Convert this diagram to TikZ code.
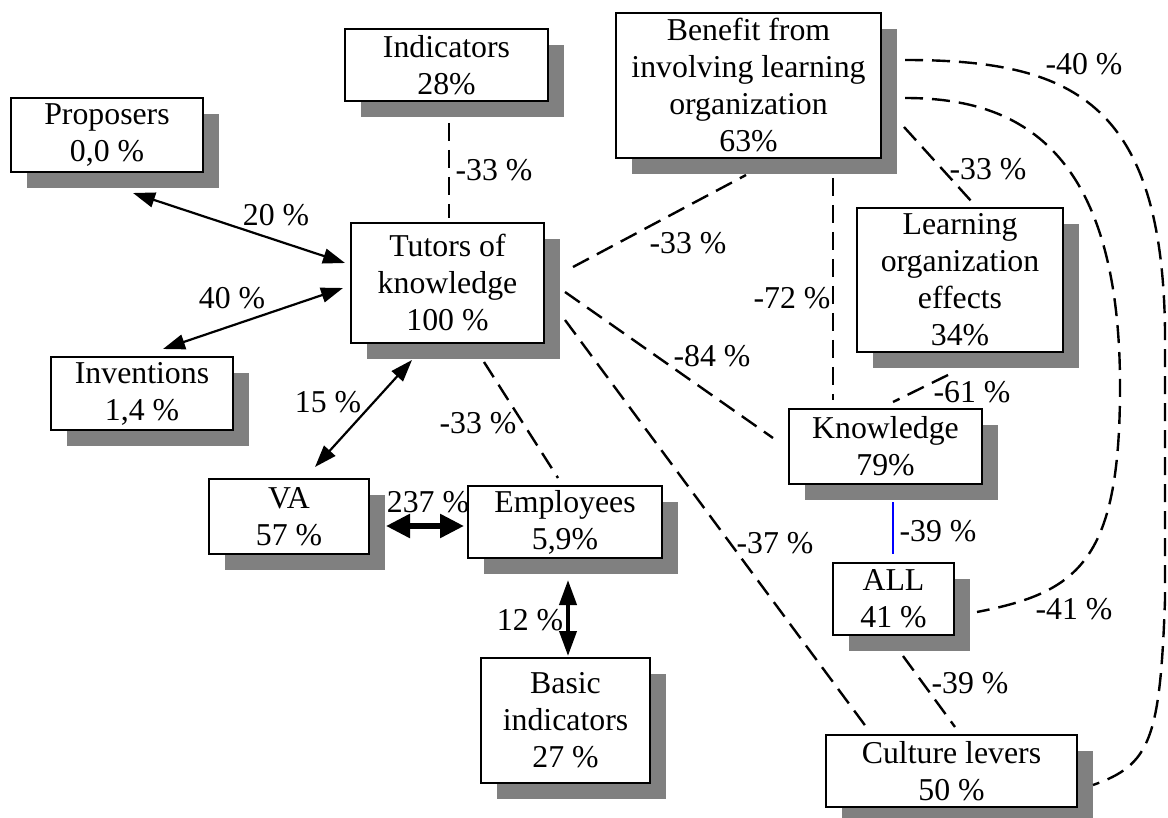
\documentclass[tikz,border=0pt]{standalone}
\usepackage{fontspec}
\setmainfont{Liberation Serif}
\usetikzlibrary{arrows.meta,shadows}
\definecolor{shadowgray}{RGB}{128,128,128}
\definecolor{lineblue}{RGB}{0,0,255}
\begin{document}
\begin{tikzpicture}[x=1pt,y=-1pt,
  every node/.style={font=\fontsize{31.8}{37}\selectfont},
  box/.style={draw, line width=2pt, fill=white, inner sep=0pt, align=center,
    drop shadow={shadow xshift=16pt, shadow yshift=-16pt, fill=shadowgray, opacity=1}},
  lbl/.style={inner sep=0pt},
  dline/.style={line width=2.4pt, dash pattern=on 18pt off 9pt},
  twoway/.style={line width=2.2pt, {Triangle[length=22pt,width=15pt]}-{Triangle[length=22pt,width=15pt]}},
  thickway/.style={line width=5.5pt, {Triangle[length=24pt,width=23pt]}-{Triangle[length=24pt,width=23pt]}},
  midway2/.style={line width=4pt, {Triangle[length=25pt,width=17pt]}-{Triangle[length=25pt,width=17pt]}},
  blueline/.style={line width=2.4pt, draw=lineblue}
]
\useasboundingbox (0,0) rectangle (1168,818);

% boxes
\node[box, minimum width=192pt, minimum height=74pt] (prop) at (107,135) {Proposers\\0,0 \%};
\node[box, minimum width=203pt, minimum height=72pt] (ind) at (446.5,65) {Indicators\\28\%};
\node[box, minimum width=193pt, minimum height=120pt] (tut) at (447.5,283) {Tutors of\\knowledge\\100 \%};
\node[box, minimum width=182pt, minimum height=73pt] (inv) at (142,393.5) {Inventions\\1,4 \%};
\node[box, minimum width=160pt, minimum height=75pt] (va) at (289,516.5) {VA\\57 \%};
\node[box, minimum width=194pt, minimum height=72pt] (emp) at (565,522) {Employees\\5,9\%};
\node[box, minimum width=169pt, minimum height=125pt] (bas) at (565.5,720.5) {Basic\\indicators\\27 \%};
\node[box, minimum width=265pt, minimum height=145pt] (ben) at (748.5,85.5) {Benefit from\\involving learning\\organization\\63\%};
\node[box, minimum width=206pt, minimum height=144pt] (lrn) at (960,280) {Learning\\organization\\effects\\34\%};
\node[box, minimum width=193pt, minimum height=75pt] (kno) at (885.5,446.5) {Knowledge\\79\%};
\node[box, minimum width=121pt, minimum height=72pt] (all) at (893.5,599) {ALL\\41 \%};
\node[box, minimum width=251pt, minimum height=72pt] (cul) at (951.5,771) {Culture levers\\50 \%};

% two-way arrows
\draw[twoway] ([shift={(26,58)}]prop.center) -- ([shift={(-102.5,-20)}]tut.center);
\draw[twoway] ([shift={(21,-44.5)}]inv.center) -- ([shift={(-104.5,5)}]tut.center);
\draw[twoway] ([shift={(-35.5,77)}]tut.center) -- ([shift={(26,-49.5)}]va.center);
\draw[thickway] ([shift={(97,9.5)}]va.center) -- ([shift={(-101,4)}]emp.center);
\draw[midway2] ([shift={(3,58)}]emp.center) -- ([shift={(2.5,-64.5)}]bas.center);

% dashed connectors
\draw[dline] ([shift={(2.5,58)}]ind.center) -- ([shift={(1.5,-65)}]tut.center);
\draw[dline] ([shift={(36.5,79)}]tut.center) -- ([shift={(-7,-44)}]emp.center);
\draw[dline] ([shift={(125.5,-16)}]tut.center) -- ([shift={(-2.5,89.5)}]ben.center);
\draw[dline] ([shift={(117.5,9)}]tut.center) -- ([shift={(-112.5,-8.5)}]kno.center);
\draw[dline] ([shift={(117.5,37)}]tut.center) -- ([shift={(-84.5,-43)}]cul.center);
\draw[dline] ([shift={(84.5,92.5)}]ben.center) -- ([shift={(-52.5,-46.5)}]kno.center);
\draw[dline] ([shift={(155.5,41.5)}]ben.center) -- ([shift={(12,-78)}]lrn.center);
\draw[dline] ([shift={(-12,95)}]lrn.center) -- ([shift={(7.5,-44.5)}]kno.center);
\draw[blueline] ([shift={(7.5,55.5)}]kno.center) -- ([shift={(-0.5,-45)}]all.center);
\draw[dline] ([shift={(9.5,57)}]all.center) -- ([shift={(3.5,-44)}]cul.center);
\draw[dline] ([shift={(156.5,12.5)}]ben.center) .. controls (1010,98) and (1118,140) .. (1120,380)
   .. controls (1121,560) and (1080,592) .. ([shift={(83.5,13)}]all.center);
\draw[dline] ([shift={(156.5,-25.5)}]ben.center) .. controls (1070,60) and (1162,100) .. (1165,330)
   -- (1165,600) .. controls (1160,740) and (1150,765) .. ([shift={(141.5,14)}]cul.center);

% labels
\node[lbl] (l1) at (276,215) {20 \%};
\node[lbl] (l2) at (232,298) {40 \%};
\node[lbl] (l3) at (328,402) {15 \%};
\node[lbl] (l4) at (428,502) {237 \%};
\node[lbl] (l5) at (530,620) {12 \%};
\node[lbl] (l6) at (494,170) {-33 \%};
\node[lbl] (l7) at (478,423) {-33 \%};
\node[lbl] (l8) at (688,243) {-33 \%};
\node[lbl] (l9) at (712,356) {-84 \%};
\node[lbl] (l10) at (775,543) {-37 \%};
\node[lbl] (l11) at (792,298) {-72 \%};
\node[lbl] (l12) at (988,169) {-33 \%};
\node[lbl] (l13) at (972,392) {-61 \%};
\node[lbl] (l14) at (938,531) {-39 \%};
\node[lbl] (l15) at (970,683) {-39 \%};
\node[lbl] (l16) at (1074,609) {-41 \%};
\node[lbl] (l17) at (1084,64) {-40 \%};
\end{tikzpicture}
\end{document}
